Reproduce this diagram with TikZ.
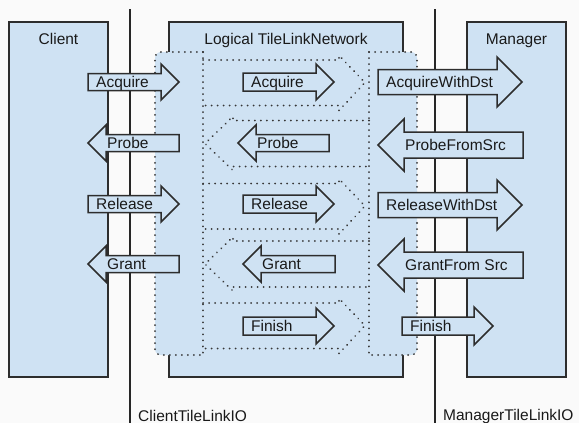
\documentclass[tikz,border=0pt]{standalone}
\usepackage{fontspec}
\setmainfont{Liberation Sans}
\usepackage{tikz}
\usetikzlibrary{arrows.meta}

\definecolor{paneblue}{RGB}{207,226,243}
\definecolor{edgegray}{RGB}{45,45,45}
\definecolor{dotgray}{RGB}{55,55,55}

\tikzset{
  unit/.style={draw=edgegray,fill=paneblue,line width=1.4pt},
  lane/.style={draw=dotgray,line width=2pt,line cap=round,dash pattern=on 0.01pt off 6pt},
  wire/.style={draw=black!85,line width=1.2pt},
  msgbox/.style={draw=edgegray,fill=paneblue,line width=1.5pt,line join=miter},
  msglabel/.style={inner sep=0pt,font=\fontsize{15.5}{18}\selectfont,text=black!90},
  title/.style={inner sep=0pt,font=\fontsize{15.5}{18}\selectfont,text=black!90},
}

% right arrow: name, left x, tip x, centre y, body half, head half, text
\newcommand{\msgright}[7]{%
  \draw[msgbox] (#2,#4-#5) -- (#3-#6,#4-#5) -- (#3-#6,#4-#6) -- (#3,#4)
    -- (#3-#6,#4+#6) -- (#3-#6,#4+#5) -- (#2,#4+#5) -- cycle;
  \node[msglabel,anchor=base west] (#1) at (#2+8,#4+5.8) {#7};
}
% left arrow: name, tip x, right x, centre y, body half, head half, text
\newcommand{\msgleft}[7]{%
  \draw[msgbox] (#2,#4) -- (#2+#6,#4-#6) -- (#2+#6,#4-#5) -- (#3,#4-#5)
    -- (#3,#4+#5) -- (#2+#6,#4+#5) -- (#2+#6,#4+#6) -- cycle;
  \node[msglabel,anchor=base west] (#1) at (#2+#6+1,#4+5.8) {#7};
}
% dotted lanes through the network
\newcommand{\laneright}[1]{%
  \draw[lane] (203,#1-22.5) -- (339,#1-22.5) -- (339,#1-27) -- (365,#1)
    -- (339,#1+28) -- (339,#1+23) -- (203,#1+23);
}
\newcommand{\laneleft}[1]{%
  \draw[lane] (369,#1-23) -- (233,#1-23) -- (233,#1-27) -- (205,#1)
    -- (233,#1+27) -- (233,#1+23) -- (369,#1+23);
}

\begin{document}
\begin{tikzpicture}[x=1pt,y=-1pt]
  \useasboundingbox[fill=white!98!black] (0,0) rectangle (579,423);

  % the three blocks
  \draw[unit] (9,22) rectangle (108,377);
  \draw[unit] (467,22) rectangle (566,377);
  \draw[unit] (169,22) rectangle (403,377);
  \node[title,anchor=base] (client) at (58.5,45) {Client};
  \node[title,anchor=base] (network) at (286,45) {Logical TileLinkNetwork};
  \node[title,anchor=base] (manager) at (516.5,45) {Manager};

  % ports on both sides of the network
  \fill[paneblue] (203,52) [rounded corners=6pt] -- (155,52) -- (155,355) -- (203,355);
  \draw[lane] (203,52) [rounded corners=6pt] -- (155,52) -- (155,355) -- (203,355);
  \draw[lane] (203,52) -- (203,355);
  \fill[paneblue] (369,52) [rounded corners=6pt] -- (417,52) -- (417,355) -- (369,355);
  \draw[lane] (369,52) [rounded corners=6pt] -- (417,52) -- (417,355) -- (369,355);
  \draw[lane] (369,52) -- (369,355);

  \laneright{82.5}
  \laneleft{143.5}
  \laneright{206}
  \laneleft{264}
  \laneright{325.5}

  % interface boundaries
  \draw[wire] (130,9) -- (130,423);
  \draw[wire] (435,9) -- (435,423);

  % client side
  \msgright{cAcq}{88}{179}{82}{8.5}{18}{Acquire}
  \msgleft{cPrb}{88}{179}{143}{8.5}{18}{Probe}
  \msgright{cRel}{88}{179}{204}{8.5}{18}{Release}
  \msgleft{cGnt}{88}{179}{264}{8.5}{18}{Grant}

  % inside the network
  \msgright{nAcq}{243}{334}{82}{9}{18}{Acquire}
  \msgleft{nPrb}{238}{329}{143}{8.5}{18}{Probe}
  \msgright{nRel}{243}{334}{204}{9}{18}{Release}
  \msgleft{nGnt}{243}{335}{264}{8.5}{18}{Grant}
  \msgright{nFin}{243}{334}{326}{9}{18}{Finish}

  % manager side
  \msgright{mAcq}{378}{522}{82}{12.5}{25}{AcquireWithDst}
  \msgleft{mPrb}{378}{523}{145}{13}{26}{ProbeFromSrc}
  \msgright{mRel}{378}{522}{205}{12.5}{25}{ReleaseWithDst}
  \msgleft{mGnt}{378}{523}{265}{13}{26}{GrantFrom Src}
  \msgright{mFin}{402}{493}{326}{9}{19}{Finish}

  \node[title,anchor=base west] (clientio) at (138,421) {ClientTileLinkIO};
  \node[title,anchor=base west] (managerio) at (443,420) {ManagerTileLinkIO};
\end{tikzpicture}
\end{document}
